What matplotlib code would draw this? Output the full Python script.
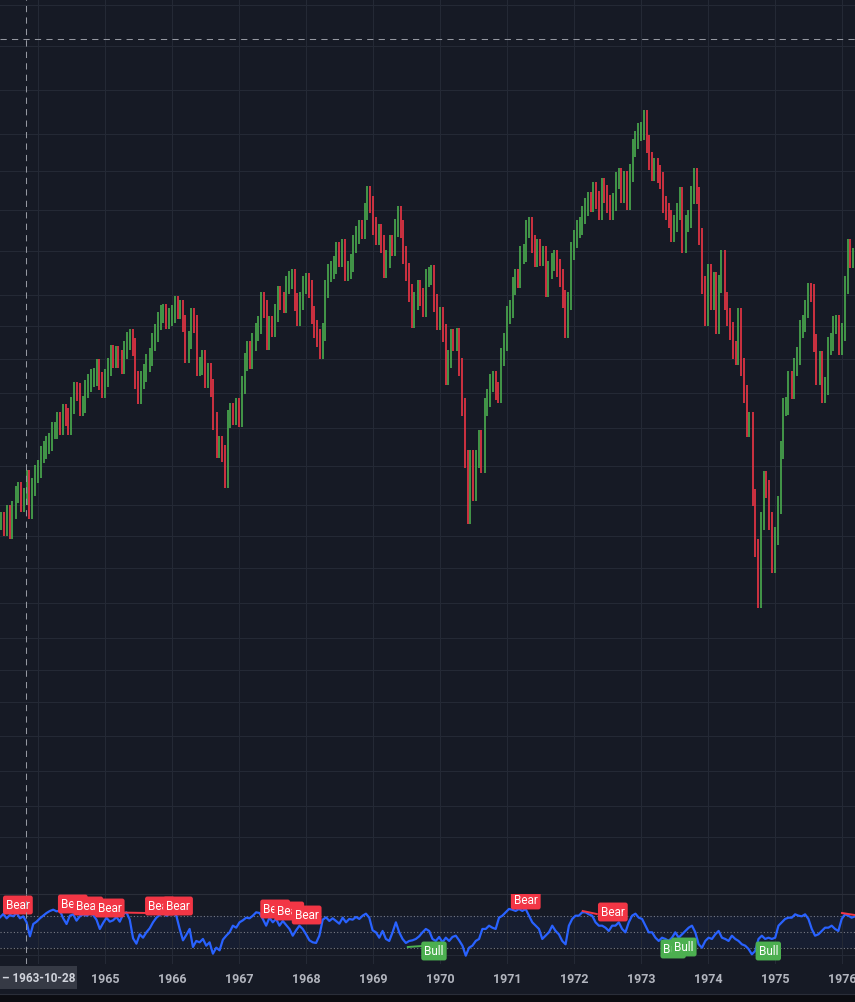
"""Weekly-style S&P 500 chart (log scale) with an RSI divergence pane, dark theme."""

import matplotlib

matplotlib.use("Agg")
import matplotlib.pyplot as plt
import numpy as np
import pandas as pd
from matplotlib.patches import Rectangle
from matplotlib.ticker import NullLocator

PALETTE = {
    "bg": "#161a25",
    "grid": "#242935",
    "sep": "#2a2e39",
    "up": "#4caf50",
    "down": "#f23645",
    "rsi": "#2962ff",
    "level": "#787b86",
    "cross": "#9598a1",
    "axis_text": "#b2b5be",
    "label_bg": "#363a45",
    "strip": "#0c0d12",
}

plt.rcParams["font.family"] = ["Roboto", "DejaVu Sans"]

# ---- price: semi-monthly closes (15th / 1st) ------------------------------
closes_1963 = [70.0, 69.4, 70.6, 69.1, 71.0, 72.5, 72.8, 71.7, 72.3, 74.0, 71.0, 73.2, 74.5, 75.0]
closes_1964 = [76.5, 77.0, 77.5, 77.8, 79.0, 79.0, 80.0, 79.5, 80.9, 80.4, 79.5, 81.7,
               83.3, 83.2, 81.5, 81.8, 83.5, 84.2, 84.8, 84.9, 85.9, 84.4, 83.5, 84.8]
closes_1965 = [86.0, 87.6, 87.0, 87.4, 87.0, 86.2, 88.0, 89.1, 89.5, 88.4, 84.5, 82.8,
               84.5, 85.3, 86.5, 87.2, 89.0, 90.0, 91.5, 92.4, 92.5, 91.6, 92.0, 92.4]
closes_1966 = [93.5, 92.9, 93.0, 91.2, 87.5, 89.2, 92.0, 91.1, 86.0, 86.1, 87.0, 84.7,
               85.5, 83.6, 80.0, 77.1, 77.5, 76.6, 74.0, 80.2, 81.0, 80.5, 81.5, 80.3]
closes_1967 = [84.0, 86.6, 88.0, 86.8, 89.0, 90.2, 91.0, 94.0, 93.0, 89.1, 91.0, 90.6,
               92.5, 94.8, 94.0, 93.6, 96.0, 96.7, 97.0, 93.9, 92.0, 94.0, 96.0, 96.5]
closes_1968 = [95.5, 92.2, 90.5, 89.4, 88.0, 90.2, 95.5, 97.6, 98.0, 98.7, 100.5, 99.6,
               101.0, 97.7, 98.0, 98.9, 101.5, 102.7, 103.5, 103.4, 106.0, 108.4, 107.0, 103.9]
closes_1969 = [102.5, 103.0, 101.5, 98.1, 99.5, 101.5, 101.0, 103.7, 105.5, 103.5, 100.0, 97.7,
               95.0, 91.8, 94.0, 95.5, 94.5, 93.1, 97.0, 97.2, 97.5, 93.8, 91.5, 92.1]
closes_1970 = [90.0, 85.0, 87.0, 89.5, 89.0, 89.6, 86.0, 81.5, 76.0, 70.5, 76.0, 72.7,
               76.0, 78.1, 75.5, 81.5, 82.5, 84.2, 84.5, 83.3, 83.0, 87.2, 89.0, 92.2]
closes_1971 = [93.0, 95.9, 97.0, 96.8, 100.0, 100.3, 103.5, 104.0, 101.5, 99.6, 101.0, 99.7,
               100.0, 95.6, 98.0, 99.0, 99.5, 98.3, 97.0, 94.2, 90.5, 94.0, 100.5, 102.1]
closes_1972 = [103.5, 103.9, 105.5, 106.6, 107.5, 107.2, 109.0, 107.7, 106.0, 109.5, 108.5, 107.1,
               106.0, 107.4, 110.5, 111.1, 108.5, 110.6, 107.5, 111.6, 115.5, 116.7, 118.0, 118.1]
closes_1973 = [120.0, 116.0, 113.5, 111.7, 112.5, 111.5, 110.5, 107.0, 106.0, 105.0, 103.0, 104.3,
               106.0, 108.2, 101.5, 104.3, 105.0, 108.4, 111.0, 108.3, 102.5, 96.0, 92.0, 97.6]
closes_1974 = [94.0, 96.6, 91.0, 96.2, 99.5, 94.0, 92.0, 90.3, 88.0, 87.3, 92.0, 86.0,
               83.0, 79.3, 80.0, 72.2, 67.5, 63.0, 70.0, 73.9, 73.0, 70.0, 66.0, 68.6]
closes_1975 = [71.5, 77.0, 81.5, 81.6, 84.5, 83.4, 86.0, 87.3, 90.5, 91.2, 93.0, 95.2,
               95.0, 88.8, 85.0, 86.9, 83.0, 83.9, 88.5, 89.0, 91.0, 91.2, 88.5, 90.2]
closes_1976 = [96.0, 100.9, 99.5, 99.7, 101.5]

closes = (closes_1963 + closes_1964 + closes_1965 + closes_1966 + closes_1967
          + closes_1968 + closes_1969 + closes_1970 + closes_1971 + closes_1972
          + closes_1973 + closes_1974 + closes_1975 + closes_1976)

# ---- RSI line, traced left half / right half -------------------------------
rsi_left = [
    68.3, 72.5, 67.1, 71.3, 69.6, 73.8, 67.1, 69.6, 62.1, 44.6,
    60.0, 62.9, 67.1, 70.4, 73.8, 76.3, 77.9, 75.8, 76.7, 67.1,
    60.0, 70.4, 72.1, 64.2, 69.6, 72.1, 70.4, 72.9, 71.3, 65.4,
    53.8, 61.3, 67.9, 62.9, 64.6, 68.8, 62.9, 72.1, 74.6, 65.4,
    42.1, 35.4, 47.1, 42.9, 49.6, 54.6, 62.1, 67.9, 71.3, 74.6,
    70.4, 72.9, 74.6, 70.4, 53.8, 39.6, 46.3, 53.8, 31.3, 38.8,
    37.1, 41.3, 32.9, 37.1, 22.9, 30.4, 27.1, 40.4, 45.4, 49.6,
    57.9, 55.4, 62.1, 64.6, 67.9, 67.1, 70.4, 74.6, 73.8, 66.3,
    57.9, 67.9, 62.1, 66.3, 57.9, 63.8, 58.8, 53.8, 45.4, 52.1,
    57.9, 53.8, 47.1, 39.6, 37.1, 36.3, 45.4, 65.4, 68.3, 63.8,
    67.1, 63.8, 60.4, 67.9, 62.1, 66.3, 65.4, 68.8, 66.3, 70.4,
    72.9, 67.9, 52.1, 49.6, 42.9, 51.3, 41.3, 38.8, 49.6, 62.1,
    49.6, 41.3, 36.3, 38.8, 39.6, 41.3, 44.6, 49.6,
]
rsi_right = [
    53.8, 51.3, 41.3, 38.8, 43.8, 37.1, 42.9, 38.8, 43.8, 45.4,
    39.6, 32.9, 20.4, 30.4, 32.9, 38.8, 41.3, 53.8, 53.8, 57.9,
    55.4, 53.8, 67.9, 70.4, 74.6, 78.8, 77.9, 76.3, 78.8, 76.3,
    78.8, 70.4, 62.1, 57.9, 53.8, 41.3, 45.4, 49.6, 57.9, 51.3,
    47.1, 38.8, 34.6, 57.9, 66.3, 70.4, 70.4, 74.6, 74.6, 72.1,
    70.4, 62.1, 57.9, 57.9, 55.4, 51.3, 57.9, 57.9, 62.1, 53.8,
    49.6, 62.1, 70.4, 72.9, 67.9, 66.3, 57.9, 49.6, 49.6, 42.9,
    38.8, 42.9, 41.3, 38.8, 42.9, 49.6, 42.9, 47.1, 51.3, 55.4,
    57.9, 49.6, 34.6, 30.4, 38.8, 42.9, 41.3, 47.1, 51.3, 42.9,
    41.3, 38.8, 45.4, 41.3, 38.8, 34.6, 32.9, 28.8, 22.1, 26.3,
    41.3, 45.4, 41.3, 42.9, 41.3, 42.9, 57.9, 62.1, 66.3, 67.9,
    67.9, 72.1, 70.4, 69.6, 72.1, 66.3, 53.8, 45.4, 47.1, 51.3,
    55.4, 55.4, 57.9, 53.8, 51.3, 66.3, 72.1, 70.4, 67.9, 69.6,
]
rsi = rsi_left + rsi_right

# ---- divergence signals ----------------------------------------------------
signal_years = [1963.70, 1964.52, 1964.75, 1965.07, 1965.82, 1966.09, 1967.54, 1967.75,
                1968.01, 1969.91, 1971.28, 1972.58, 1973.48, 1973.64, 1974.90]
signal_values = [83.75, 85.0, 82.5, 80.0, 82.5, 82.5, 78.75, 76.25,
                 71.25, 26.25, 90.0, 75.0, 28.75, 31.25, 26.25]
signal_kinds = ["Bear"] * 9 + ["Bull", "Bear", "Bear", "Bull", "Bull", "Bull"]

div_kinds = ["Bear", "Bull", "Bear", "Bear"]
div_x0 = [1964.78, 1969.52, 1972.13, 1976.00]
div_x1 = [1965.63, 1969.73, 1972.34, 1976.19]
div_y0 = [75.0, 31.25, 76.25, 73.75]
div_y1 = [73.75, 32.5, 72.5, 71.25]

# ---- scales / cursor -------------------------------------------------------
X_LEFT, X_RIGHT = 1963.433, 1976.194
PRICE_LIM = (42.4, 141.0)
RSI_LIM = (10.0, 97.5)
GRID_LEVELS = [139.8, 132.4, 124.8, 117.7, 112.0, 106.2, 100.5, 94.8, 90.9, 87.0, 83.1,
               79.3, 75.3, 71.5, 68.6, 65.7, 62.7, 59.8, 57.3, 54.9, 52.4, 50.0, 47.7,
               45.8, 44.0]
RSI_LEVELS = [70, 50, 30]
RSI_GRID = 21.25
YEARS = list(range(1964, 1977))
YEAR_LABELS = YEARS[1:]  # 1964 sits under the cursor date label
CROSSHAIR_DATE = "1963-10-28"
CROSSHAIR_PRICE = 133.6
WICK_PAD = 0.012  # visual extension of each bar (log units)

W, H = 855, 1003


def fig_rect(top_px, bottom_px):
    return [0.0, (H - bottom_px) / H, 1.0, (bottom_px - top_px) / H]


fig = plt.figure(figsize=(W / 100, H / 100), dpi=100, facecolor=PALETTE["bg"])
ax1 = fig.add_axes(fig_rect(0, 895))
ax2 = fig.add_axes(fig_rect(895, 965))
ax3 = fig.add_axes(fig_rect(965, 995))

bar_dates = pd.date_range("1963-06-15", periods=len(closes), freq="SMS")
bar_x = np.asarray(bar_dates.year + (bar_dates.dayofyear - 1) / 365.25)
cross_ts = pd.Timestamp(CROSSHAIR_DATE)
cross_x = cross_ts.year + (cross_ts.dayofyear - 1) / 365.25

# ---- main pane --------------------------------------------------------------
c = np.asarray(closes)
o = np.r_[c[0], c[:-1]]
lo = np.minimum(o, c) * np.exp(-WICK_PAD)
hi = np.maximum(o, c) * np.exp(WICK_PAD)
colors = np.where(c >= o, PALETTE["up"], PALETTE["down"])
ax1.vlines(bar_x, lo, hi, colors=colors, lw=1.3, alpha=0.9, zorder=3)

ax1.set_yscale("log")
ax1.set_ylim(*PRICE_LIM)
ax1.set_xlim(X_LEFT, X_RIGHT)
ax1.set_yticks(GRID_LEVELS)
ax1.yaxis.set_minor_locator(NullLocator())
ax1.set_xticks(YEARS)
ax1.grid(True, color=PALETTE["grid"], lw=0.8)
ax1.axhline(CROSSHAIR_PRICE, color=PALETTE["cross"], lw=0.75, ls=(0, (6, 5)), zorder=4)
ax1.axvline(cross_x, color=PALETTE["cross"], lw=0.75, ls=(0, (6, 5)), zorder=4)

# ---- RSI pane -------------------------------------------------------------
rsi_x = np.linspace(X_LEFT, X_RIGHT, len(rsi))
ax2.axhspan(RSI_LEVELS[-1], RSI_LEVELS[0], color=PALETTE["rsi"], alpha=0.06, lw=0, zorder=1)
for lvl in RSI_LEVELS:
    ax2.axhline(lvl, color=PALETTE["level"], lw=0.8, ls=(0, (1, 2)), zorder=2)
ax2.axhline(RSI_GRID, color=PALETTE["grid"], lw=0.8, zorder=1)
ax2.plot(rsi_x, rsi, color=PALETTE["rsi"], lw=1.6, zorder=3)
for kind, xa, xb, ya, yb in zip(div_kinds, div_x0, div_x1, div_y0, div_y1):
    col = PALETTE["down"] if kind == "Bear" else PALETTE["up"]
    ax2.plot([xa, xb], [ya, yb], color=col, lw=1.4, zorder=4)
for yr, val, kind in zip(signal_years, signal_values, signal_kinds):
    col = PALETTE["down"] if kind == "Bear" else PALETTE["up"]
    ax2.text(yr, val, kind, ha="center", va="center", color="white", fontsize=8.5,
             zorder=5, clip_on=True,
             bbox=dict(boxstyle="round,pad=0.25,rounding_size=0.2", fc=col, ec="none"))
ax2.set_xlim(X_LEFT, X_RIGHT)
ax2.set_ylim(*RSI_LIM)
ax2.set_xticks(YEARS)
ax2.set_yticks([])
ax2.grid(True, axis="x", color=PALETTE["grid"], lw=0.8)
ax2.axvline(cross_x, color=PALETTE["cross"], lw=0.75, ls=(0, (6, 5)), zorder=6)

for ax in (ax1, ax2, ax3):
    ax.set_facecolor(PALETTE["bg"])
    ax.tick_params(left=False, bottom=False, labelleft=False, labelbottom=False)
    for spine in ax.spines.values():
        spine.set_visible(False)
ax2.spines["top"].set_visible(True)
ax2.spines["top"].set_color(PALETTE["sep"])

# ---- time axis --------------------------------------------------------------
ax3.set_xlim(X_LEFT, X_RIGHT)
ax3.set_ylim(0, 1)
for yr in YEAR_LABELS:
    ax3.text(yr, 0.5, str(yr), ha="center", va="center", color=PALETTE["axis_text"],
             fontsize=9, fontweight="semibold")
ax3.add_patch(Rectangle((0.0, 0.17), 77 / W, 0.76, transform=ax3.transAxes,
                        fc=PALETTE["label_bg"], ec="none", zorder=5))
ax3.text(2 / W, 0.55, f"\u2013 {CROSSHAIR_DATE}", transform=ax3.transAxes, ha="left",
         va="center", color="#d1d4dc", fontsize=8.5, fontweight="semibold", zorder=6)

fig.patches.append(Rectangle((0, 0), 1, 8 / H, transform=fig.transFigure,
                             fc=PALETTE["strip"], ec="none"))
fig.lines.append(plt.Line2D([0, 1], [8 / H, 8 / H], transform=fig.transFigure,
                            color=PALETTE["sep"], lw=0.8))

fig.savefig("out.png", dpi=100, facecolor=PALETTE["bg"])
plt.close(fig)
